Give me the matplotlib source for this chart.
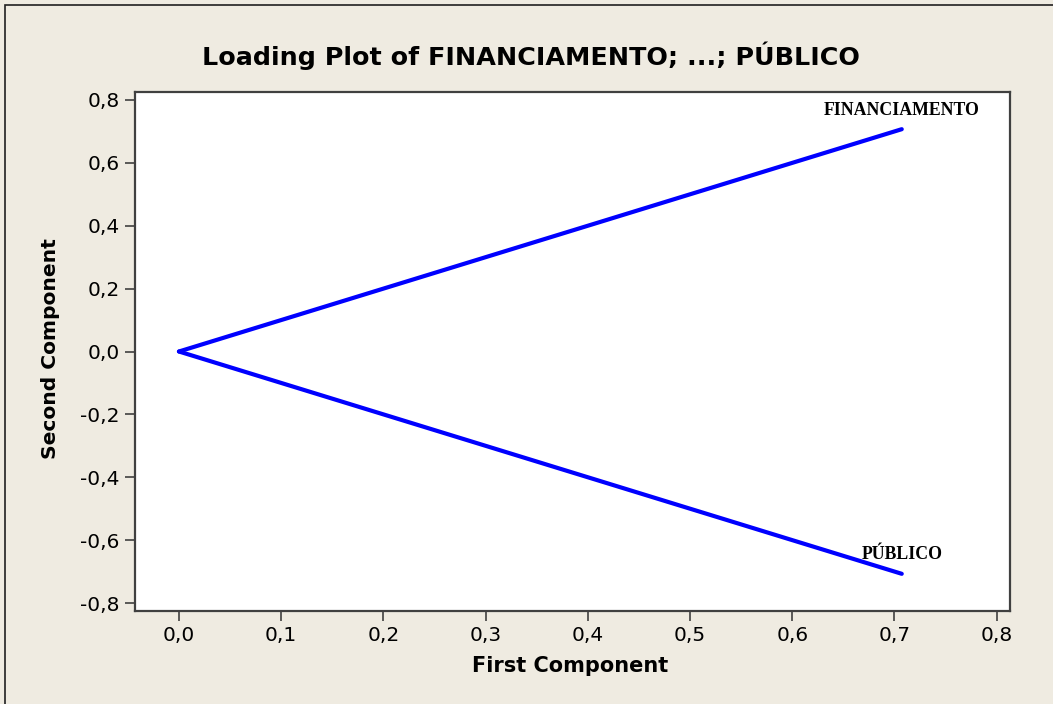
import matplotlib
matplotlib.use("Agg")
import matplotlib.pyplot as plt
from matplotlib.patches import Rectangle

# Loadings of the two variables on the first two principal components
variables = ["FINANCIAMENTO", "PÚBLICO"]
first_component = [0.7071, 0.7071]
second_component = [0.7071, -0.7071]

x_ticks = [0.0, 0.1, 0.2, 0.3, 0.4, 0.5, 0.6, 0.7, 0.8]
y_ticks = [-0.8, -0.6, -0.4, -0.2, 0.0, 0.2, 0.4, 0.6, 0.8]

BG = "#EFEBE1"
SPINE = "#404040"
W, H = 1053, 704

fig = plt.figure(figsize=(W / 100, H / 100), dpi=100, facecolor=BG)

# Outer frame of the graph window
fig.patches.append(Rectangle((5 / W, -0.01), 1.02, 1 - 5 / H + 0.01,
                             transform=fig.transFigure, fill=False,
                             edgecolor="#202020", linewidth=1.2))

ax = fig.add_axes([135 / W, 1 - 611 / H, (1010 - 135) / W, (611 - 92) / H])
ax.set_facecolor("white")

for xv, yv, name in zip(first_component, second_component, variables):
    ax.plot([0, xv], [0, yv], color="#0000FF", linewidth=3.0,
            solid_capstyle="round")
    ax.annotate(name, (xv, yv), xytext=(0, 19), textcoords="offset pixels",
                ha="center", va="center", fontsize=12.8, fontweight="bold",
                family="Liberation Serif", color="black")

ax.set_xlim(-0.043, 0.813)
ax.set_ylim(-0.8254, 0.8254)
ax.set_xticks(x_ticks)
ax.set_yticks(y_ticks)
ax.set_xticklabels([f"{v:.1f}".replace(".", ",") for v in x_ticks])
ax.set_yticklabels([f"{v:.1f}".replace(".", ",").replace("-0,0", "0,0") for v in y_ticks])

for s in ax.spines.values():
    s.set_color(SPINE)
    s.set_linewidth(1.6)
ax.tick_params(direction="out", length=7, width=1.2, color=SPINE,
               labelsize=14.5, labelcolor="black", pad=4)
for lab in ax.get_xticklabels() + ax.get_yticklabels():
    lab.set_family("DejaVu Sans")

fig.text(531 / W, 1 - 56 / H, "Loading Plot of FINANCIAMENTO; ...; PÚBLICO",
         ha="center", va="center", fontsize=18.3, fontweight="bold",
         family="DejaVu Sans")
fig.text(570 / W, 1 - 666 / H, "First Component", ha="center", va="center",
         fontsize=15, fontweight="bold", family="DejaVu Sans")
fig.text(51 / W, 1 - 349 / H, "Second Component", ha="center", va="center",
         rotation=90, fontsize=14.6, fontweight="bold", family="DejaVu Sans")

fig.savefig("out.png", dpi=100, facecolor=BG)
